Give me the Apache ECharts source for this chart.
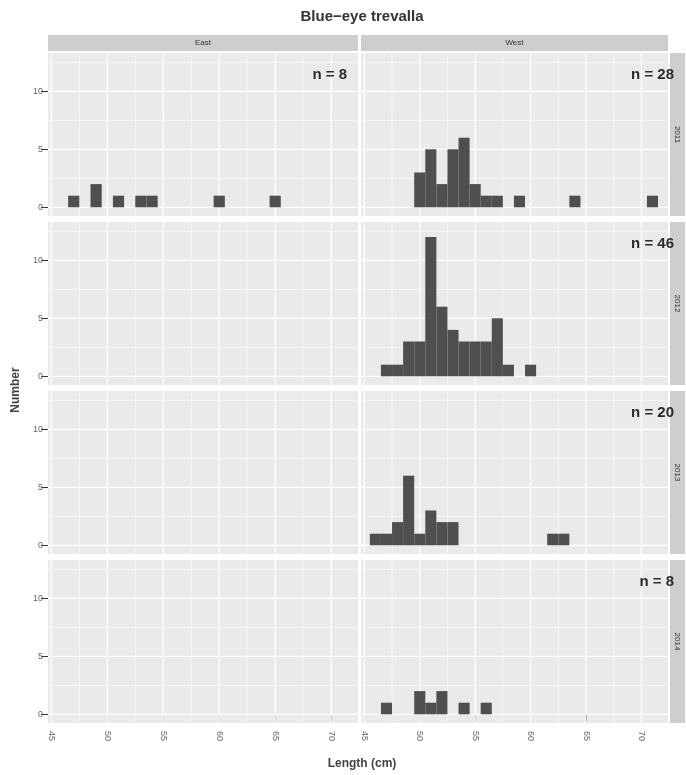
<!DOCTYPE html>
<html>
<head>
<meta charset="utf-8">
<script src="https://cdn.jsdelivr.net/npm/echarts@6/dist/echarts.min.js"></script>
<style>
  html, body { margin: 0; padding: 0; background: #ffffff; }
  #chart { width: 686px; height: 775px; }
</style>
</head>
<body>
<div id="chart"></div>
<script>
// Facet labels
const regions = ['East', 'West'];
const years = ['2011', '2012', '2013', '2014'];

// Length-frequency data: 1 cm bins, bin centres (cm) and fish counts
const east2011Length = [47, 49, 51, 53, 54, 60, 65];
const east2011Count  = [1, 2, 1, 1, 1, 1, 1];
const east2012Length = [];
const east2012Count  = [];
const east2013Length = [];
const east2013Count  = [];
const east2014Length = [];
const east2014Count  = [];

const west2011Length = [50, 51, 52, 53, 54, 55, 56, 57, 59, 64, 71];
const west2011Count  = [3, 5, 2, 5, 6, 2, 1, 1, 1, 1, 1];
const west2012Length = [47, 48, 49, 50, 51, 52, 53, 54, 55, 56, 57, 58, 60];
const west2012Count  = [1, 1, 3, 3, 12, 6, 4, 3, 3, 3, 5, 1, 1];
const west2013Length = [46, 47, 48, 49, 50, 51, 52, 53, 62, 63];
const west2013Count  = [1, 1, 2, 6, 1, 3, 2, 2, 1, 1];
const west2014Length = [47, 50, 51, 52, 54, 56];
const west2014Count  = [1, 2, 1, 2, 1, 1];

// Axis breaks
const xTicks = [45, 50, 55, 60, 65, 70];
const xMinorBreaks = [47.5, 52.5, 57.5, 62.5, 67.5];
const yTicks = [0, 5, 10];
const yMinorBreaks = [2.5, 7.5, 12.5];
const binWidth = 1;

// Panels: [column][row]
const panelLengths = [
  [east2011Length, east2012Length, east2013Length, east2014Length],
  [west2011Length, west2012Length, west2013Length, west2014Length]
];
const panelCounts = [
  [east2011Count, east2012Count, east2013Count, east2014Count],
  [west2011Count, west2012Count, west2013Count, west2014Count]
];

// Layout
const X_RANGE = [44.7, 72.4];
const Y_RANGE = [-0.75, 13.3];
const COL_LEFT = [48, 361];
const COL_WIDTH = [310, 307];
const ROW_TOP = [53, 222, 391, 560];
const PANEL_H = 163;
const STRIP_TOP = 35, STRIP_H = 16;
const RSTRIP_X = 670, RSTRIP_W = 15;

const FONT = "'Liberation Sans', Arial, Helvetica, sans-serif";
const PANEL_BG = '#e9ebea';
const STRIP_BG = '#cdcecd';
const BAR_FILL = '#4e4f4e';

const grids = [], xAxes = [], yAxes = [], series = [], graphics = [];

let idx = 0;
for (let c = 0; c < 2; c++) {
  for (let r = 0; r < 4; r++) {
    const bottomRow = r === 3;
    const leftCol = c === 0;
    grids.push({
      left: COL_LEFT[c], top: ROW_TOP[r], width: COL_WIDTH[c], height: PANEL_H,
      show: true, backgroundColor: PANEL_BG, borderWidth: 0
    });
    xAxes.push({
      type: 'value', gridIndex: idx, min: X_RANGE[0], max: X_RANGE[1], splitNumber: 5,
      axisLine: { show: false },
      splitLine: { show: false },
      axisTick: { show: bottomRow, customValues: xTicks, length: 7, lineStyle: { color: '#333', width: 1 } },
      axisLabel: {
        show: bottomRow, customValues: xTicks, rotate: -90, margin: 8,
        fontSize: 9, color: '#666', fontFamily: FONT
      }
    });
    yAxes.push({
      type: 'value', gridIndex: idx, min: Y_RANGE[0], max: Y_RANGE[1], splitNumber: 3,
      axisLine: { show: false },
      splitLine: { show: false },
      axisTick: { show: leftCol, customValues: yTicks, length: 7, lineStyle: { color: '#333', width: 1 } },
      axisLabel: {
        show: leftCol, customValues: yTicks, margin: 5,
        fontSize: 9, color: '#666', fontFamily: FONT
      }
    });

    // panel grid lines (white, major and minor)
    series.push({
      type: 'custom', xAxisIndex: idx, yAxisIndex: idx, silent: true, z: 1,
      data: [[X_RANGE[0], 0]],
      renderItem: function (params, api) {
        const cs = params.coordSys;
        const children = [];
        const vline = (v, w) => {
          const p = api.coord([v, 0]);
          children.push({ type: 'line', shape: { x1: p[0], y1: cs.y, x2: p[0], y2: cs.y + cs.height },
            style: { stroke: '#ffffff', lineWidth: w } });
        };
        const hline = (v, w) => {
          const p = api.coord([X_RANGE[0], v]);
          children.push({ type: 'line', shape: { x1: cs.x, y1: p[1], x2: cs.x + cs.width, y2: p[1] },
            style: { stroke: '#ffffff', lineWidth: w } });
        };
        xMinorBreaks.forEach(v => vline(v, 0.6));
        yMinorBreaks.forEach(v => hline(v, 0.6));
        xTicks.forEach(v => vline(v, 1.2));
        yTicks.forEach(v => hline(v, 1.2));
        return { type: 'group', children: children };
      }
    });

    // histogram bars
    const lens = panelLengths[c][r], cnts = panelCounts[c][r];
    series.push({
      type: 'custom', xAxisIndex: idx, yAxisIndex: idx, z: 2, clip: true,
      data: lens.map((x, i) => [x, cnts[i]]),
      renderItem: function (params, api) {
        const x = api.value(0), n = api.value(1);
        const p0 = api.coord([x - binWidth / 2, n]);
        const p1 = api.coord([x + binWidth / 2, 0]);
        return {
          type: 'rect',
          shape: { x: p0[0], y: p0[1], width: p1[0] - p0[0], height: p1[1] - p0[1] },
          style: { fill: BAR_FILL }
        };
      }
    });

    // sample size label
    const total = cnts.reduce((a, b) => a + b, 0);
    if (total > 0) {
      graphics.push({
        type: 'text',
        x: COL_LEFT[c] + COL_WIDTH[c] - (leftCol ? 11 : -6),
        y: ROW_TOP[r] + 22,
        style: {
          text: 'n = ' + total, fontSize: 15, fontWeight: 'bold', fontFamily: FONT,
          fill: '#2a2a2a', align: 'right', verticalAlign: 'middle'
        },
        z: 10
      });
    }
    idx++;
  }
}

// column strips
for (let c = 0; c < 2; c++) {
  graphics.push({
    type: 'rect',
    shape: { x: COL_LEFT[c], y: STRIP_TOP, width: COL_WIDTH[c], height: STRIP_H },
    style: { fill: STRIP_BG }
  });
  graphics.push({
    type: 'text',
    x: COL_LEFT[c] + COL_WIDTH[c] / 2, y: STRIP_TOP + STRIP_H / 2,
    style: { text: regions[c], fontSize: 8, fontFamily: FONT, fill: '#333', align: 'center', verticalAlign: 'middle' }
  });
}
// row strips
for (let r = 0; r < 4; r++) {
  graphics.push({
    type: 'rect',
    shape: { x: RSTRIP_X, y: ROW_TOP[r], width: RSTRIP_W, height: PANEL_H },
    style: { fill: STRIP_BG }
  });
  graphics.push({
    type: 'text',
    x: RSTRIP_X + RSTRIP_W / 2, y: ROW_TOP[r] + PANEL_H / 2,
    rotation: -Math.PI / 2,
    style: { text: years[r], fontSize: 8, fontFamily: FONT, fill: '#333', align: 'center', verticalAlign: 'middle' }
  });
}

// titles
graphics.push({
  type: 'text', x: 362, y: 17,
  style: { text: 'Blue\u2212eye trevalla', fontSize: 15, fontWeight: 'bold', fontFamily: FONT,
    fill: '#333', align: 'center', verticalAlign: 'middle' }
});
graphics.push({
  type: 'text', x: 362, y: 764,
  style: { text: 'Length (cm)', fontSize: 12, fontWeight: 'bold', fontFamily: FONT,
    fill: '#444', align: 'center', verticalAlign: 'middle' }
});
graphics.push({
  type: 'text', x: 16, y: 390, rotation: Math.PI / 2,
  style: { text: 'Number', fontSize: 12, fontWeight: 'bold', fontFamily: FONT,
    fill: '#444', align: 'center', verticalAlign: 'middle' }
});

const chart = echarts.init(document.getElementById('chart'), null, { renderer: 'canvas' });
chart.setOption({
  animation: false,
  backgroundColor: '#ffffff',
  grid: grids,
  xAxis: xAxes,
  yAxis: yAxes,
  series: series,
  graphic: { elements: graphics }
});
</script>
</body>
</html>
